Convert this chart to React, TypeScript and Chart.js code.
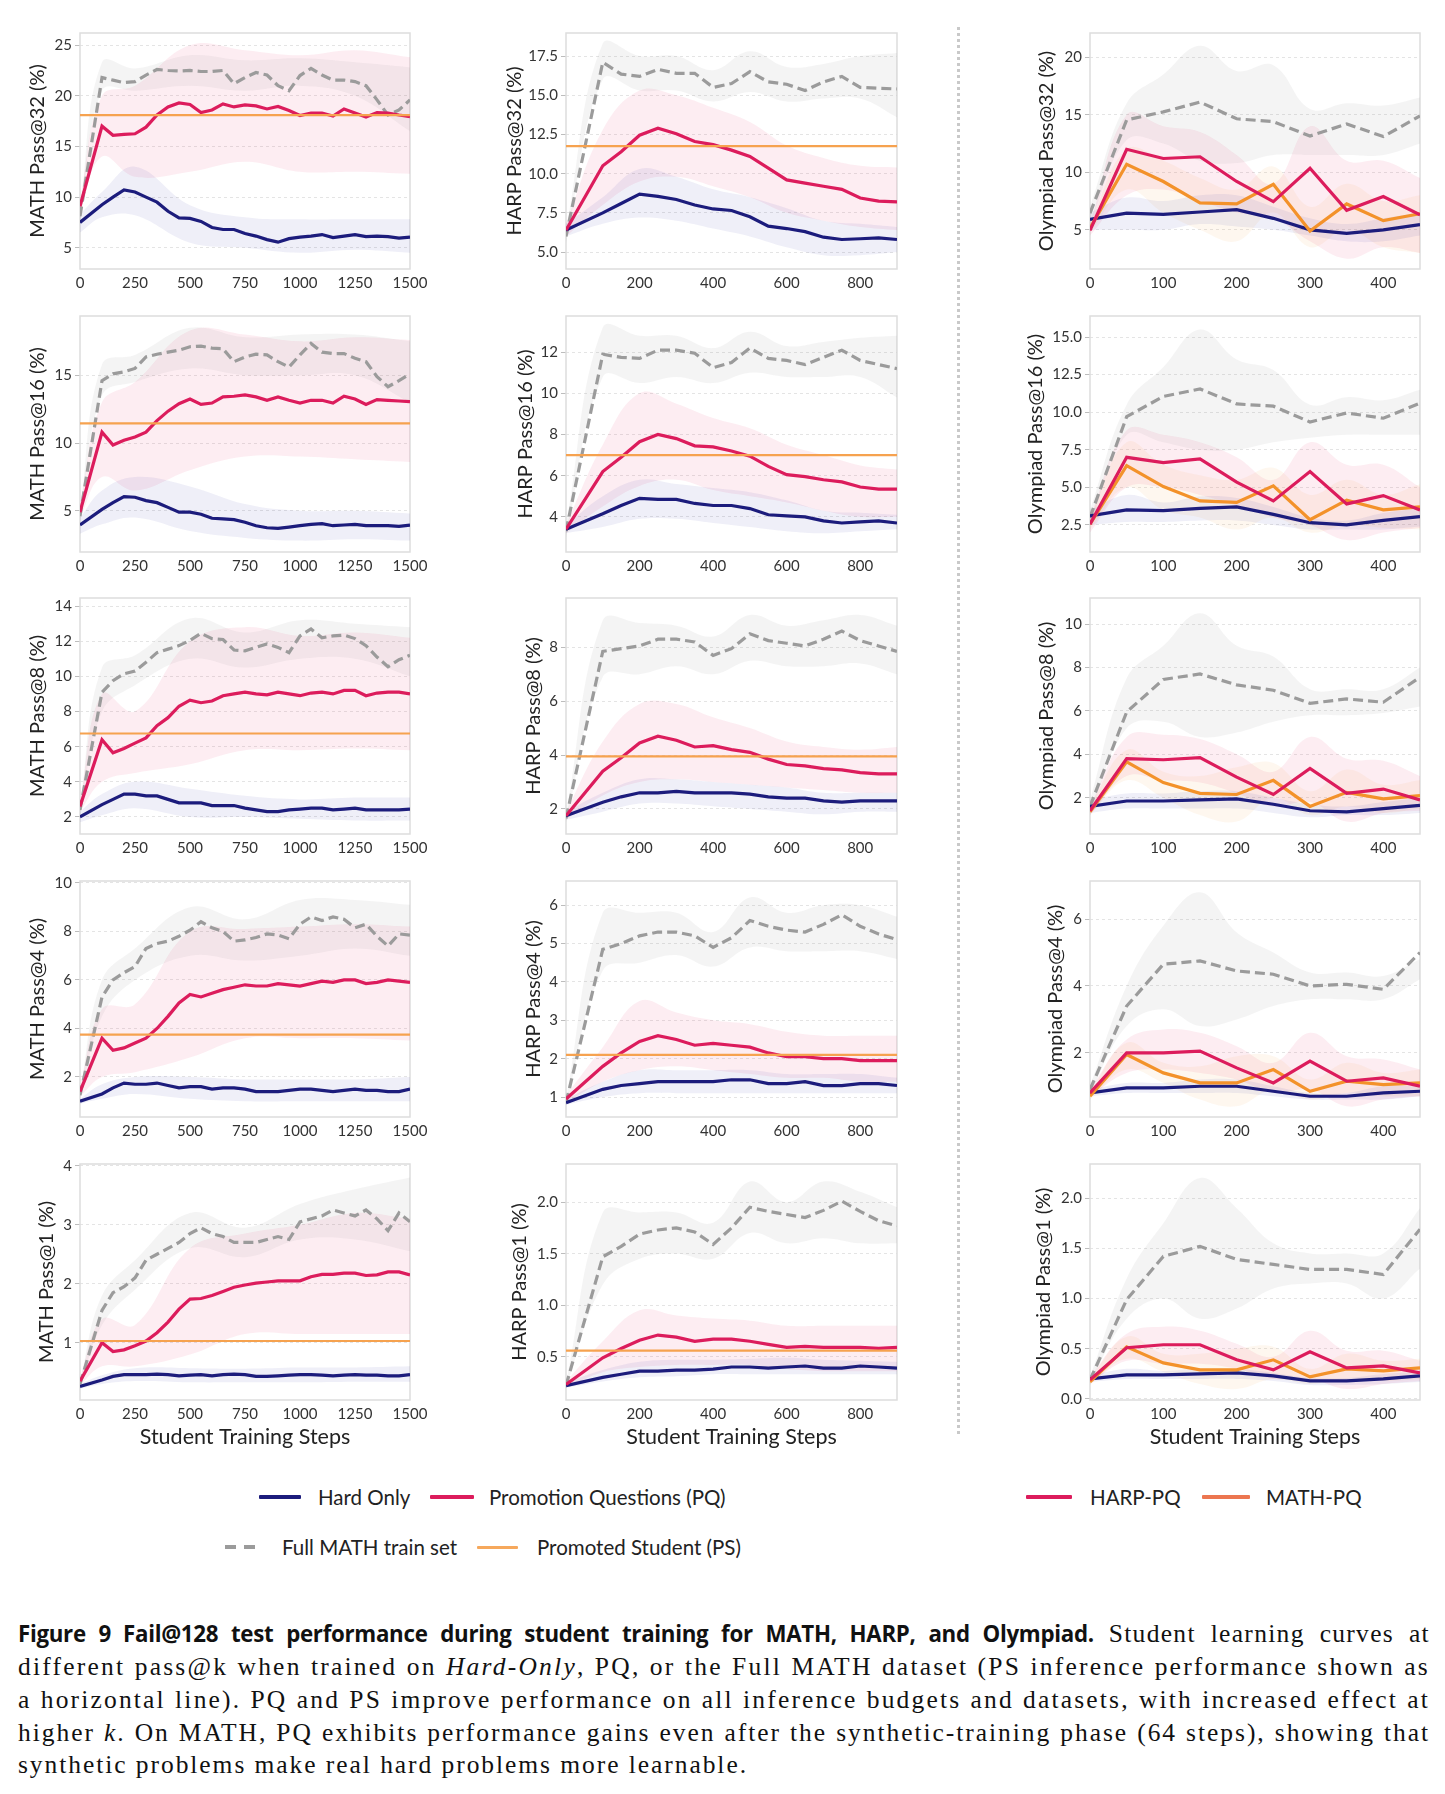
import React, { useEffect, useLayoutEffect, useRef } from 'react';
import { Chart, registerables } from 'chart.js';
Chart.register(...registerables);
Chart.defaults.font.family = "Lato, 'Noto Sans', sans-serif";

// ---------- x positions ----------
const MATH_X = [0,100,150,200,250,300,350,400,450,500,550,600,650,700,750,800,850,900,950,1000,1050,1100,1150,1200,1250,1300,1350,1400,1450,1500];
const HARP_X = [0,100,150,200,250,300,350,400,450,500,550,600,650,700,750,800,850,900];
const OLY_X = [0,50,100,150,200,250,300,350,400,450];
const MATH_BX = [0,100,250,500,750,1000,1250,1500];
const HARP_BX = [0,100,200,300,400,500,600,700,800,900];
const OLY_BX = [0,50,100,150,200,250,300,350,400,450];
const MATH_XTICKS = [0,250,500,750,1000,1250,1500];
const HARP_XTICKS = [0,200,400,600,800];
const OLY_XTICKS = [0,100,200,300,400];
const K_VALUES = [32,16,8,4,1];

// ---------- MATH ----------
const M32_FULL = [8.1,21.8,21.55,21.3,21.4,22.05,22.6,22.5,22.45,22.5,22.4,22.4,22.5,21.2,21.8,22.3,22.05,21.0,20.5,22.0,22.7,22.05,21.55,21.55,21.4,21.0,19.6,18.1,18.6,19.6];
const M32_PQ = [9.1,17.0,16.1,16.2,16.25,16.9,18.1,18.9,19.3,19.15,18.35,18.6,19.2,18.9,19.1,19.0,18.7,18.95,18.55,18.05,18.3,18.3,18.0,18.7,18.3,17.9,18.35,18.3,18.1,17.95];
const M32_HARD = [7.5,9.25,10.0,10.7,10.5,10.0,9.5,8.6,7.95,7.9,7.6,7.0,6.8,6.8,6.4,6.15,5.8,5.55,5.9,6.05,6.15,6.3,6.0,6.15,6.3,6.1,6.15,6.1,5.95,6.05];
const M32_FULL_LO = [7.5,20.5,20.5,21.0,20.5,21.0,20.0,16.5];
const M32_FULL_HI = [8.8,23.3,22.7,24.0,23.5,23.7,23.3,22.8];
const M32_PQ_LO = [8.5,14.0,12.0,12.5,13.5,12.5,12.5,12.3];
const M32_PQ_HI = [9.7,20.0,21.0,25.0,24.5,24.0,24.5,23.8];
const M32_HARD_LO = [6.5,8.0,8.2,5.5,5.0,4.5,4.8,4.5];
const M32_HARD_HI = [8.3,10.5,13.0,9.2,8.0,7.8,7.8,7.8];

const M16_FULL = [4.6,14.6,15.1,15.25,15.5,16.35,16.55,16.7,16.85,17.1,17.15,17.0,16.95,16.0,16.35,16.55,16.5,16.0,15.6,16.5,17.35,16.7,16.6,16.6,16.25,16.0,14.9,14.15,14.6,15.1];
const M16_PQ = [4.9,10.8,9.85,10.2,10.45,10.8,11.65,12.35,12.9,13.25,12.85,12.95,13.4,13.45,13.55,13.4,13.15,13.4,13.15,12.95,13.15,13.15,12.95,13.45,13.25,12.85,13.2,13.15,13.1,13.05];
const M16_HARD = [3.95,5.1,5.6,6.05,6.0,5.75,5.6,5.25,4.9,4.9,4.75,4.45,4.4,4.35,4.15,3.9,3.75,3.7,3.8,3.9,4.0,4.05,3.9,3.95,4.0,3.9,3.9,3.9,3.85,3.95];
const M16_FULL_LO = [4.2,13.5,14.5,15.5,15.0,15.0,15.0,13.0];
const M16_FULL_HI = [5.0,15.8,16.5,18.5,17.8,18.0,18.0,17.5];
const M16_PQ_LO = [4.5,7.5,6.5,8.0,9.0,9.0,8.8,8.6];
const M16_PQ_HI = [5.3,13.0,14.5,18.3,18.0,17.5,17.8,17.6];
const M16_HARD_LO = [3.3,4.0,4.5,3.5,3.0,2.8,2.9,2.8];
const M16_HARD_HI = [4.5,6.5,7.5,6.8,5.5,5.0,5.0,4.8];

const M8_FULL = [2.4,9.1,9.75,10.15,10.3,10.8,11.35,11.55,11.75,12.05,12.45,12.15,12.1,11.5,11.45,11.65,11.85,11.65,11.35,12.3,12.7,12.2,12.3,12.35,12.15,11.75,11.1,10.55,10.95,11.2];
const M8_PQ = [2.6,6.4,5.65,5.9,6.2,6.5,7.2,7.65,8.3,8.65,8.5,8.6,8.9,9.0,9.1,9.0,8.95,9.1,9.0,8.9,9.05,9.1,9.0,9.2,9.2,8.9,9.05,9.1,9.1,9.0];
const M8_HARD = [2.0,2.7,3.0,3.3,3.3,3.2,3.2,3.0,2.8,2.8,2.8,2.65,2.65,2.65,2.5,2.4,2.3,2.3,2.4,2.45,2.5,2.5,2.4,2.45,2.5,2.4,2.4,2.4,2.4,2.45];
const M8_FULL_LO = [2.2,8.0,9.5,11.0,10.5,11.0,11.0,10.0];
const M8_FULL_HI = [2.6,10.5,11.2,13.3,12.5,13.2,13.0,12.8];
const M8_PQ_LO = [2.3,4.0,4.5,5.0,5.8,5.8,5.9,5.8];
const M8_PQ_HI = [2.9,9.0,8.0,12.0,12.8,12.3,12.5,12.2];
const M8_HARD_LO = [1.7,2.1,2.5,2.0,2.0,1.9,1.8,1.8];
const M8_HARD_HI = [2.3,3.3,4.0,3.6,3.2,3.0,3.1,3.1];

const M4_FULL = [1.25,5.3,6.0,6.3,6.55,7.3,7.5,7.6,7.8,8.05,8.4,8.15,8.0,7.6,7.65,7.75,7.9,7.85,7.7,8.3,8.6,8.45,8.6,8.5,8.15,8.3,7.8,7.4,7.9,7.85];
const M4_PQ = [1.4,3.6,3.1,3.2,3.4,3.6,4.0,4.5,5.05,5.4,5.3,5.45,5.6,5.7,5.8,5.75,5.75,5.85,5.8,5.75,5.85,5.95,5.9,6.0,6.0,5.85,5.9,6.0,5.95,5.9];
const M4_HARD = [1.0,1.3,1.55,1.75,1.7,1.7,1.75,1.65,1.55,1.6,1.6,1.5,1.55,1.55,1.5,1.4,1.4,1.4,1.45,1.5,1.5,1.45,1.4,1.45,1.5,1.45,1.45,1.4,1.4,1.5];
const M4_FULL_LO = [1.1,4.5,6.0,7.0,6.8,7.0,7.3,7.0];
const M4_FULL_HI = [1.4,6.0,7.3,9.0,8.5,9.3,9.3,9.1];
const M4_PQ_LO = [1.2,2.0,2.2,2.8,3.6,3.6,3.6,3.5];
const M4_PQ_HI = [1.6,4.8,5.0,8.0,8.1,8.2,8.3,8.2];
const M4_HARD_LO = [0.9,1.1,1.3,1.1,1.0,1.0,1.0,1.0];
const M4_HARD_HI = [1.1,1.7,2.0,2.0,1.9,1.9,1.9,2.0];

const M1_FULL = [0.3,1.55,1.85,1.95,2.1,2.4,2.5,2.6,2.7,2.85,2.95,2.85,2.8,2.7,2.7,2.7,2.75,2.8,2.75,3.05,3.1,3.15,3.25,3.2,3.15,3.25,3.1,2.9,3.2,3.05];
const M1_PQ = [0.35,1.0,0.85,0.88,0.95,1.03,1.17,1.35,1.57,1.74,1.75,1.8,1.87,1.94,1.98,2.01,2.03,2.05,2.05,2.05,2.12,2.16,2.16,2.18,2.18,2.14,2.15,2.2,2.2,2.15];
const M1_HARD = [0.26,0.37,0.43,0.46,0.46,0.46,0.47,0.46,0.44,0.45,0.46,0.44,0.46,0.47,0.46,0.43,0.43,0.44,0.45,0.46,0.46,0.45,0.44,0.45,0.46,0.45,0.45,0.44,0.44,0.46];
const M1_FULL_LO = [0.25,1.3,1.9,2.6,2.45,2.75,2.75,2.55];
const M1_FULL_HI = [0.35,1.8,2.4,3.2,2.95,3.35,3.6,3.8];
const M1_PQ_LO = [0.28,0.6,0.6,0.8,1.15,1.15,1.15,1.15];
const M1_PQ_HI = [0.4,1.4,1.3,2.6,2.85,3.0,3.2,3.1];
const M1_HARD_LO = [0.22,0.3,0.35,0.33,0.33,0.33,0.34,0.34];
const M1_HARD_HI = [0.3,0.45,0.57,0.57,0.56,0.58,0.58,0.6];

const MATH_PS = [18.1, 11.45, 6.75, 3.75, 1.03];
const MATH_YMIN = [2.9, 1.96, 1.03, 0.35, 0.03];
const MATH_YMAX = [26.2, 19.37, 14.46, 10.08, 4.03];
const MATH_YSTEP = [5, 5, 2, 2, 1];
const MATH_DEC = [0, 0, 0, 0, 0];

// ---------- HARP ----------
const H32_FULL = [6.0,17.1,16.35,16.2,16.65,16.4,16.4,15.5,15.75,16.5,15.85,15.7,15.3,15.85,16.2,15.5,15.45,15.4];
const H32_PQ = [6.4,10.5,11.4,12.45,12.9,12.55,12.05,11.85,11.5,11.1,10.35,9.6,9.4,9.2,9.0,8.45,8.25,8.2];
const H32_HARD = [6.4,7.5,8.1,8.7,8.55,8.35,8.0,7.75,7.65,7.25,6.65,6.5,6.3,5.95,5.8,5.85,5.9,5.8];
const H32_FULL_LO = [5.6,16.0,15.3,15.3,14.6,15.2,14.6,14.8,14.8,13.6];
const H32_FULL_HI = [6.4,18.3,17.5,17.5,16.6,17.8,16.8,17.0,17.5,17.7];
const H32_PQ_LO = [6.0,8.0,9.5,9.8,9.2,8.5,7.5,7.0,6.6,6.4];
const H32_PQ_HI = [6.8,12.8,15.3,15.0,14.2,13.3,11.8,11.0,10.5,10.4];
const H32_HARD_LO = [6.0,6.8,7.2,7.0,6.5,6.0,5.3,4.8,4.8,5.0];
const H32_HARD_HI = [6.8,8.5,10.3,9.8,9.0,8.5,7.8,7.0,6.8,6.6];

const H16_FULL = [3.3,11.9,11.75,11.7,12.1,12.1,11.95,11.25,11.5,12.2,11.7,11.6,11.4,11.75,12.1,11.6,11.4,11.2];
const H16_PQ = [3.4,6.2,6.9,7.65,8.0,7.8,7.45,7.4,7.2,6.95,6.45,6.05,5.95,5.8,5.7,5.45,5.35,5.35];
const H16_HARD = [3.4,4.15,4.55,4.9,4.85,4.85,4.65,4.55,4.55,4.4,4.1,4.05,4.0,3.8,3.7,3.75,3.8,3.7];
const H16_FULL_LO = [3.0,10.8,10.5,10.8,10.5,11.0,10.8,10.8,10.8,9.8];
const H16_FULL_HI = [3.6,13.2,12.8,12.8,12.2,13.0,12.3,12.5,12.7,12.8];
const H16_PQ_LO = [3.2,4.5,5.5,5.8,5.3,5.0,4.7,4.3,4.0,4.0];
const H16_PQ_HI = [3.6,7.5,10.0,9.5,8.8,8.3,7.5,7.0,6.5,6.3];
const H16_HARD_LO = [3.2,3.5,3.9,3.9,3.7,3.5,3.3,3.2,3.3,3.4];
const H16_HARD_HI = [3.6,5.0,5.8,5.6,5.4,5.2,4.8,4.3,4.2,4.1];

const H8_FULL = [1.65,7.85,7.95,8.05,8.3,8.3,8.2,7.7,7.95,8.5,8.25,8.15,8.05,8.3,8.6,8.25,8.05,7.85];
const H8_PQ = [1.75,3.4,3.9,4.45,4.7,4.55,4.3,4.35,4.2,4.1,3.85,3.65,3.6,3.5,3.45,3.35,3.3,3.3];
const H8_HARD = [1.75,2.25,2.45,2.6,2.6,2.65,2.6,2.6,2.6,2.55,2.45,2.4,2.4,2.3,2.25,2.3,2.3,2.3];
const H8_FULL_LO = [1.5,6.9,7.0,7.3,7.0,7.5,7.3,7.3,7.4,7.0];
const H8_FULL_HI = [1.8,9.0,8.9,8.8,8.4,9.2,8.8,9.0,9.2,8.8];
const H8_PQ_LO = [1.6,2.5,3.0,3.1,3.0,2.9,2.8,2.7,2.6,2.6];
const H8_PQ_HI = [1.9,4.5,5.9,5.9,5.4,5.0,4.5,4.3,4.2,4.3];
const H8_HARD_LO = [1.6,1.9,2.2,2.2,2.1,2.0,1.9,1.8,1.9,1.9];
const H8_HARD_HI = [1.9,2.6,3.1,3.1,3.0,2.9,2.8,2.6,2.6,2.6];

const H4_FULL = [0.85,4.85,5.0,5.2,5.3,5.3,5.2,4.9,5.15,5.6,5.45,5.35,5.3,5.5,5.75,5.45,5.25,5.1];
const H4_PQ = [0.95,1.8,2.15,2.45,2.6,2.5,2.35,2.4,2.35,2.3,2.15,2.05,2.05,2.0,2.0,1.95,1.95,1.95];
const H4_HARD = [0.85,1.2,1.3,1.35,1.4,1.4,1.4,1.4,1.45,1.45,1.35,1.35,1.4,1.3,1.3,1.35,1.35,1.3];
const H4_FULL_LO = [0.8,4.3,4.5,4.7,4.4,4.9,4.8,4.8,4.8,4.6];
const H4_FULL_HI = [0.95,5.8,5.8,5.8,5.3,6.2,5.8,6.0,6.0,5.7];
const H4_PQ_LO = [0.85,1.4,1.7,1.8,1.7,1.6,1.5,1.5,1.4,1.4];
const H4_PQ_HI = [1.05,2.3,3.5,3.2,3.0,2.9,2.7,2.6,2.6,2.6];
const H4_HARD_LO = [0.8,1.0,1.1,1.1,1.1,1.1,1.1,1.1,1.1,1.1];
const H4_HARD_HI = [0.95,1.4,1.7,1.7,1.7,1.7,1.6,1.6,1.6,1.5];

const H1_FULL = [0.22,1.47,1.57,1.69,1.73,1.75,1.71,1.59,1.75,1.95,1.91,1.88,1.85,1.92,2.01,1.91,1.82,1.77];
const H1_PQ = [0.23,0.49,0.58,0.66,0.71,0.69,0.65,0.67,0.67,0.65,0.62,0.59,0.6,0.59,0.59,0.59,0.58,0.59];
const H1_HARD = [0.22,0.3,0.33,0.36,0.36,0.37,0.37,0.38,0.4,0.4,0.39,0.4,0.41,0.39,0.39,0.41,0.4,0.39];
const H1_FULL_LO = [0.2,1.2,1.45,1.5,1.45,1.7,1.6,1.65,1.6,1.6];
const H1_FULL_HI = [0.25,1.9,1.9,1.9,1.8,2.2,2.0,2.2,2.1,1.95];
const H1_PQ_LO = [0.2,0.35,0.4,0.42,0.42,0.42,0.38,0.36,0.36,0.36];
const H1_PQ_HI = [0.26,0.65,0.95,0.9,0.87,0.85,0.8,0.8,0.8,0.8];
const H1_HARD_LO = [0.2,0.26,0.3,0.31,0.33,0.33,0.33,0.33,0.33,0.33];
const H1_HARD_HI = [0.25,0.37,0.45,0.47,0.47,0.48,0.49,0.47,0.46,0.45];

const HARP_PS = [11.75, 7.0, 3.95, 2.1, 0.56];
const HARP_YMIN = [3.92, 2.29, 1.07, 0.48, 0.08];
const HARP_YMAX = [18.97, 13.76, 9.83, 6.63, 2.37];
const HARP_YSTEP = [2.5, 2, 2, 1, 0.5];
const HARP_DEC = [1, 0, 0, 0, 1];

// ---------- Olympiad ----------
const O32_FULL = [6.45,14.55,15.25,16.1,14.65,14.4,13.15,14.2,13.1,14.9];
const O32_HPQ = [4.95,12.0,11.2,11.35,9.2,7.45,10.35,6.7,7.9,6.3];
const O32_MPQ = [5.15,10.7,9.2,7.35,7.25,8.95,4.9,7.25,5.8,6.4];
const O32_HARD = [5.9,6.45,6.35,6.55,6.75,6.0,5.0,4.7,5.0,5.45];
const O32_FULL_LO = [5.5,12.8,12.5,11.0,10.8,11.5,11.5,11.5,11.5,12.5];
const O32_FULL_HI = [7.0,16.0,18.5,21.0,18.8,19.3,15.5,16.0,15.8,16.5];
const O32_HPQ_LO = [4.5,8.0,8.5,7.5,6.5,6.0,4.0,2.5,3.5,3.0];
const O32_HPQ_HI = [5.5,15.0,14.0,13.5,11.5,9.0,14.0,11.0,11.0,9.5];
const O32_MPQ_LO = [4.8,8.5,6.5,5.0,4.0,6.5,3.5,5.0,3.5,3.0];
const O32_MPQ_HI = [5.5,12.0,11.0,9.5,8.5,10.5,7.0,9.0,7.5,8.0];
const O32_HARD_LO = [5.0,5.0,5.0,5.5,5.3,5.0,4.5,4.0,4.0,4.5];
const O32_HARD_HI = [6.5,7.8,7.5,8.0,8.0,7.0,6.0,5.5,6.0,6.5];

const O16_FULL = [3.0,9.7,11.05,11.55,10.55,10.4,9.35,9.95,9.6,10.6];
const O16_HPQ = [2.55,7.0,6.65,6.9,5.35,4.1,6.05,3.9,4.45,3.5];
const O16_MPQ = [2.55,6.45,5.05,4.1,4.0,5.1,2.85,4.15,3.5,3.7];
const O16_HARD = [3.1,3.5,3.45,3.6,3.7,3.2,2.65,2.5,2.8,3.05];
const O16_FULL_LO = [2.5,8.5,8.0,7.5,7.5,8.0,8.3,8.5,8.5,8.5];
const O16_FULL_HI = [3.5,10.5,13.0,15.5,13.5,12.8,10.5,11.0,10.8,11.5];
const O16_HPQ_LO = [2.0,5.0,5.0,4.5,3.8,3.0,2.5,1.5,2.0,2.3];
const O16_HPQ_HI = [3.0,8.8,8.5,8.0,7.0,5.5,8.0,6.5,6.5,5.0];
const O16_MPQ_LO = [2.2,5.0,3.5,3.0,2.2,3.0,2.0,2.5,2.3,2.2];
const O16_MPQ_HI = [3.0,8.0,6.5,5.8,5.5,6.3,4.5,5.5,4.5,5.2];
const O16_HARD_LO = [2.5,2.7,2.7,2.8,2.8,2.5,2.2,2.2,2.2,2.4];
const O16_HARD_HI = [3.5,4.5,4.0,4.4,4.3,3.7,3.0,2.8,3.3,3.6];

const O8_FULL = [1.6,5.95,7.45,7.7,7.2,6.95,6.35,6.55,6.4,7.55];
const O8_HPQ = [1.4,3.8,3.75,3.85,2.95,2.15,3.35,2.2,2.4,1.9];
const O8_MPQ = [1.35,3.65,2.7,2.2,2.15,2.8,1.6,2.25,1.95,2.1];
const O8_HARD = [1.6,1.85,1.85,1.9,1.95,1.7,1.4,1.35,1.5,1.65];
const O8_FULL_LO = [1.3,5.2,5.5,4.8,5.0,5.5,5.8,5.8,5.9,6.2];
const O8_FULL_HI = [1.9,7.5,9.0,10.5,9.0,8.5,7.0,7.0,7.0,8.0];
const O8_HPQ_LO = [1.2,3.0,2.8,2.7,2.2,1.6,1.8,0.9,1.3,1.4];
const O8_HPQ_HI = [1.6,4.8,4.9,4.7,4.0,3.2,4.8,3.8,3.7,3.0];
const O8_MPQ_LO = [1.2,2.8,2.0,1.2,0.9,2.0,1.2,1.6,1.3,1.5];
const O8_MPQ_HI = [1.6,4.2,3.2,3.0,3.4,3.6,2.3,3.3,2.6,2.8];
const O8_HARD_LO = [1.3,1.5,1.5,1.5,1.5,1.3,1.1,1.2,1.2,1.3];
const O8_HARD_HI = [1.9,2.2,2.2,2.3,2.3,2.0,1.7,1.6,1.8,2.0];

const O4_FULL = [0.9,3.4,4.65,4.75,4.45,4.35,4.0,4.05,3.9,5.0];
const O4_HPQ = [0.8,2.0,2.0,2.05,1.55,1.1,1.75,1.15,1.25,1.0];
const O4_MPQ = [0.7,1.95,1.4,1.1,1.1,1.5,0.85,1.15,1.05,1.1];
const O4_HARD = [0.8,0.95,0.95,1.0,1.0,0.85,0.7,0.7,0.8,0.85];
const O4_FULL_LO = [0.8,2.8,3.3,2.8,3.0,3.4,3.6,3.6,3.6,4.2];
const O4_FULL_HI = [1.0,4.0,5.8,6.8,5.6,5.0,4.4,4.4,4.3,4.8];
const O4_HPQ_LO = [0.7,1.4,1.5,1.4,1.2,0.8,0.9,0.4,0.6,0.7];
const O4_HPQ_HI = [0.9,2.4,2.7,2.6,2.2,1.7,2.6,1.9,1.8,1.5];
const O4_MPQ_LO = [0.6,1.5,1.1,0.6,0.4,0.9,0.6,0.8,0.7,0.7];
const O4_MPQ_HI = [0.8,2.3,1.7,1.6,1.9,1.9,1.2,1.7,1.4,1.5];
const O4_HARD_LO = [0.7,0.8,0.8,0.8,0.8,0.7,0.6,0.6,0.6,0.7];
const O4_HARD_HI = [0.9,1.1,1.1,1.2,1.2,1.0,0.8,0.8,1.0,1.0];

const O1_FULL = [0.19,0.99,1.42,1.52,1.39,1.34,1.29,1.29,1.24,1.69];
const O1_HPQ = [0.19,0.51,0.54,0.54,0.39,0.29,0.47,0.31,0.33,0.26];
const O1_MPQ = [0.17,0.52,0.36,0.29,0.29,0.39,0.22,0.3,0.28,0.31];
const O1_HARD = [0.2,0.24,0.24,0.25,0.26,0.23,0.18,0.18,0.2,0.23];
const O1_FULL_LO = [0.17,0.8,1.0,0.8,0.9,1.1,1.15,1.15,1.0,1.3];
const O1_FULL_HI = [0.22,1.2,1.75,2.2,1.9,1.55,1.45,1.45,1.45,1.9];
const O1_HPQ_LO = [0.15,0.38,0.35,0.35,0.3,0.2,0.2,0.1,0.15,0.18];
const O1_HPQ_HI = [0.22,0.65,0.72,0.68,0.55,0.42,0.68,0.48,0.48,0.38];
const O1_MPQ_LO = [0.14,0.4,0.27,0.15,0.1,0.2,0.15,0.2,0.18,0.2];
const O1_MPQ_HI = [0.2,0.62,0.45,0.45,0.5,0.52,0.3,0.45,0.38,0.4];
const O1_HARD_LO = [0.17,0.2,0.2,0.2,0.2,0.18,0.14,0.14,0.15,0.17];
const O1_HARD_HI = [0.23,0.3,0.28,0.3,0.3,0.26,0.21,0.21,0.25,0.27];

const OLY_YMIN = [1.6, 0.7, 0.33, 0.08, -0.01];
const OLY_YMAX = [22.1, 16.4, 11.2, 7.14, 2.34];
const OLY_YSTEP = [5, 2.5, 2, 2, 0.5];
const OLY_DEC = [0, 1, 0, 0, 1];

// ---------- style ----------
const COLORS: any = { hard: '#1c1c7c', pq: '#dc1c5c', full: '#9b9b9b', mpq: '#f3922a', ps: '#f6a24f' };
const BANDS: any = {
  hard: 'rgba(35,35,150,0.07)', pq: 'rgba(225,30,95,0.08)',
  full: 'rgba(150,150,150,0.10)', mpq: 'rgba(245,150,45,0.08)',
};
const ORDER: any = { full: 4, hard: 3, mpq: 2, pq: 1 };

const ROW_T = [33, 316, 598, 881, 1164];
const PLOT_H = 236;
const COL_L = [80, 566, 1090];
const COL_R = [410, 897, 1420];
// canvas left edge per [row][col] (places each y-axis title like the reference)
const CANVAS_L = [[26, 503, 1035], [26, 514, 1024], [26, 522, 1035], [26, 522, 1044], [35, 508, 1032]];

type Series = { kind: string; y: number[]; lo: number[]; hi: number[] };
type PanelCfg = {
  row: number; col: number; name: string; k: number;
  xs: number[]; bx: number[]; xticks: number[]; xmax: number;
  ymin: number; ymax: number; ystep: number; dec: number;
  series: Series[]; ps?: number;
};

const S = (kind: string, y: number[], lo: number[], hi: number[]): Series => ({ kind, y, lo, hi });

const MATH_SERIES = [
  [S('full', M32_FULL, M32_FULL_LO, M32_FULL_HI), S('hard', M32_HARD, M32_HARD_LO, M32_HARD_HI), S('pq', M32_PQ, M32_PQ_LO, M32_PQ_HI)],
  [S('full', M16_FULL, M16_FULL_LO, M16_FULL_HI), S('hard', M16_HARD, M16_HARD_LO, M16_HARD_HI), S('pq', M16_PQ, M16_PQ_LO, M16_PQ_HI)],
  [S('full', M8_FULL, M8_FULL_LO, M8_FULL_HI), S('hard', M8_HARD, M8_HARD_LO, M8_HARD_HI), S('pq', M8_PQ, M8_PQ_LO, M8_PQ_HI)],
  [S('full', M4_FULL, M4_FULL_LO, M4_FULL_HI), S('hard', M4_HARD, M4_HARD_LO, M4_HARD_HI), S('pq', M4_PQ, M4_PQ_LO, M4_PQ_HI)],
  [S('full', M1_FULL, M1_FULL_LO, M1_FULL_HI), S('hard', M1_HARD, M1_HARD_LO, M1_HARD_HI), S('pq', M1_PQ, M1_PQ_LO, M1_PQ_HI)],
];
const HARP_SERIES = [
  [S('full', H32_FULL, H32_FULL_LO, H32_FULL_HI), S('hard', H32_HARD, H32_HARD_LO, H32_HARD_HI), S('pq', H32_PQ, H32_PQ_LO, H32_PQ_HI)],
  [S('full', H16_FULL, H16_FULL_LO, H16_FULL_HI), S('hard', H16_HARD, H16_HARD_LO, H16_HARD_HI), S('pq', H16_PQ, H16_PQ_LO, H16_PQ_HI)],
  [S('full', H8_FULL, H8_FULL_LO, H8_FULL_HI), S('hard', H8_HARD, H8_HARD_LO, H8_HARD_HI), S('pq', H8_PQ, H8_PQ_LO, H8_PQ_HI)],
  [S('full', H4_FULL, H4_FULL_LO, H4_FULL_HI), S('hard', H4_HARD, H4_HARD_LO, H4_HARD_HI), S('pq', H4_PQ, H4_PQ_LO, H4_PQ_HI)],
  [S('full', H1_FULL, H1_FULL_LO, H1_FULL_HI), S('hard', H1_HARD, H1_HARD_LO, H1_HARD_HI), S('pq', H1_PQ, H1_PQ_LO, H1_PQ_HI)],
];
const OLY_SERIES = [
  [S('full', O32_FULL, O32_FULL_LO, O32_FULL_HI), S('hard', O32_HARD, O32_HARD_LO, O32_HARD_HI), S('mpq', O32_MPQ, O32_MPQ_LO, O32_MPQ_HI), S('pq', O32_HPQ, O32_HPQ_LO, O32_HPQ_HI)],
  [S('full', O16_FULL, O16_FULL_LO, O16_FULL_HI), S('hard', O16_HARD, O16_HARD_LO, O16_HARD_HI), S('mpq', O16_MPQ, O16_MPQ_LO, O16_MPQ_HI), S('pq', O16_HPQ, O16_HPQ_LO, O16_HPQ_HI)],
  [S('full', O8_FULL, O8_FULL_LO, O8_FULL_HI), S('hard', O8_HARD, O8_HARD_LO, O8_HARD_HI), S('mpq', O8_MPQ, O8_MPQ_LO, O8_MPQ_HI), S('pq', O8_HPQ, O8_HPQ_LO, O8_HPQ_HI)],
  [S('full', O4_FULL, O4_FULL_LO, O4_FULL_HI), S('hard', O4_HARD, O4_HARD_LO, O4_HARD_HI), S('mpq', O4_MPQ, O4_MPQ_LO, O4_MPQ_HI), S('pq', O4_HPQ, O4_HPQ_LO, O4_HPQ_HI)],
  [S('full', O1_FULL, O1_FULL_LO, O1_FULL_HI), S('hard', O1_HARD, O1_HARD_LO, O1_HARD_HI), S('mpq', O1_MPQ, O1_MPQ_LO, O1_MPQ_HI), S('pq', O1_HPQ, O1_HPQ_LO, O1_HPQ_HI)],
];

const PANELS: PanelCfg[] = [];
K_VALUES.forEach((k, r) => {
  PANELS.push({ row: r, col: 0, name: 'MATH', k, xs: MATH_X, bx: MATH_BX, xticks: MATH_XTICKS, xmax: 1500,
    ymin: MATH_YMIN[r], ymax: MATH_YMAX[r], ystep: MATH_YSTEP[r], dec: MATH_DEC[r], series: MATH_SERIES[r], ps: MATH_PS[r] });
  PANELS.push({ row: r, col: 1, name: 'HARP', k, xs: HARP_X, bx: HARP_BX, xticks: HARP_XTICKS, xmax: 900,
    ymin: HARP_YMIN[r], ymax: HARP_YMAX[r], ystep: HARP_YSTEP[r], dec: HARP_DEC[r], series: HARP_SERIES[r], ps: HARP_PS[r] });
  PANELS.push({ row: r, col: 2, name: 'Olympiad', k, xs: OLY_X, bx: OLY_BX, xticks: OLY_XTICKS, xmax: 450,
    ymin: OLY_YMIN[r], ymax: OLY_YMAX[r], ystep: OLY_YSTEP[r], dec: OLY_DEC[r], series: OLY_SERIES[r] });
});

function yTicks(min: number, max: number, step: number) {
  const out: number[] = [];
  for (let i = Math.ceil(min / step - 1e-9); i * step <= max + 1e-9; i++) out.push(Math.round(i * step * 1000) / 1000 + 0);
  return out;
}

const framePlugin = {
  id: 'frame',
  beforeDatasetsDraw(chart: any) {
    const { ctx, chartArea: a } = chart;
    ctx.save();
    ctx.strokeStyle = '#dddddd';
    ctx.lineWidth = 1.5;
    ctx.strokeRect(a.left, a.top, a.right - a.left, a.bottom - a.top);
    ctx.restore();
  },
};

function Panel({ p }: { p: PanelCfg }) {
  const ref = useRef<HTMLCanvasElement>(null);
  const L = COL_L[p.col], R = COL_R[p.col], T = ROW_T[p.row];
  const cl = CANVAS_L[p.row][p.col];
  const yW = L - cl;
  const padT = 12, padR = 24;
  const xH = p.row === 4 ? 50 : 30;
  const w = yW + (R - L) + padR;
  const h = padT + PLOT_H + xH;

  useEffect(() => {
    const datasets: any[] = [];
    p.series.forEach((s) => {
      datasets.push({
        data: p.xs.map((x, i) => ({ x, y: s.y[i] })),
        borderColor: COLORS[s.kind], borderWidth: 3.2,
        borderDash: s.kind === 'full' ? [10, 5] : [],
        pointRadius: 0, fill: false, tension: 0, order: ORDER[s.kind],
      });
    });
    if (p.ps !== undefined) {
      datasets.push({
        data: [{ x: 0, y: p.ps }, { x: p.xmax, y: p.ps }],
        borderColor: COLORS.ps, borderWidth: 2.2, pointRadius: 0, fill: false, order: 0,
      });
    }
    p.series.forEach((s) => {
      const loIdx = datasets.length;
      datasets.push({
        data: p.bx.map((x, i) => ({ x, y: s.lo[i] })),
        borderWidth: 0, borderColor: 'rgba(0,0,0,0)', pointRadius: 0, tension: 0.4, fill: false, order: 20,
      });
      datasets.push({
        data: p.bx.map((x, i) => ({ x, y: s.hi[i] })),
        borderWidth: 0, borderColor: 'rgba(0,0,0,0)', pointRadius: 0, tension: 0.4,
        fill: loIdx, backgroundColor: BANDS[s.kind], order: 20,
      });
    });

    const yt = yTicks(p.ymin, p.ymax, p.ystep);
    const chart = new Chart(ref.current as HTMLCanvasElement, {
      type: 'line',
      data: { datasets },
      plugins: [framePlugin],
      options: {
        animation: false, responsive: false, maintainAspectRatio: false, devicePixelRatio: 1,
        events: [],
        layout: { padding: { top: padT, right: padR, left: 0, bottom: 0 } },
        plugins: { legend: { display: false }, tooltip: { enabled: false } },
        scales: {
          x: {
            type: 'linear', min: 0, max: p.xmax,
            grid: { display: false, drawTicks: false },
            border: { display: false },
            ticks: { color: '#333', font: { size: 15 }, padding: 5, maxRotation: 0, autoSkip: false, callback: (v: any) => String(v) },
            afterBuildTicks: (ax: any) => { ax.ticks = p.xticks.map((v) => ({ value: v })); },
            afterFit: (ax: any) => { ax.height = xH; },
            title: p.row === 4
              ? { display: true, text: 'Student Training Steps', color: '#222', font: { size: 21.5 }, padding: { top: 2, bottom: 0 } }
              : { display: false },
          },
          y: {
            type: 'linear', min: p.ymin, max: p.ymax,
            grid: { color: '#e4e4e4', lineWidth: 1, drawTicks: true, tickLength: 5, tickColor: '#bdbdbd' },
            border: { display: false, dash: [3, 3] },
            ticks: { color: '#333', font: { size: 15 }, padding: 3, autoSkip: false, callback: (v: any) => Number(v).toFixed(p.dec) },
            afterBuildTicks: (ax: any) => { ax.ticks = yt.map((v) => ({ value: v })); },
            afterFit: (ax: any) => { ax.width = yW; },
            title: { display: true, text: `${p.name} Pass@${p.k} (%)`, color: '#222', font: { size: 20 }, padding: { top: 0, bottom: 0 } },
          },
        },
      } as any,
    });
    return () => chart.destroy();
  }, []);

  return (
    <canvas ref={ref} width={w} height={h}
      style={{ position: 'absolute', left: cl, top: T - padT, width: w, height: h }} />
  );
}

function LegendItem({ x1, x2, y, color, thick, dashed, label, tx }: any) {
  return (
    <>
      {dashed ? (
        <div style={{ position: 'absolute', left: x1, top: y - thick / 2, width: x2 - x1, height: thick,
          background: `repeating-linear-gradient(to right, ${color} 0 11px, transparent 11px 19px)` }} />
      ) : (
        <div style={{ position: 'absolute', left: x1, top: y - thick / 2, width: x2 - x1, height: thick, background: color, borderRadius: 1 }} />
      )}
      <div style={{ position: 'absolute', left: tx, top: y - 14, height: 28, lineHeight: '28px', fontFamily: 'Lato, sans-serif',
        fontSize: 20.5, color: '#222', whiteSpace: 'nowrap' }}>{label}</div>
    </>
  );
}

const capLine: any = {
  position: 'absolute', left: 18, width: 1412, height: 33, lineHeight: '33px',
  fontFamily: "'Liberation Serif', 'DejaVu Serif', serif", fontSize: 25.5, letterSpacing: 0.8, color: '#111',
  textAlign: 'justify', textAlignLast: 'justify', whiteSpace: 'normal', overflow: 'visible',
};

// caption line whose tracking is tuned so the natural width is close to the reference line width
function CapLine({ top, target, last, children }: any) {
  const ref = useRef<HTMLDivElement>(null);
  useLayoutEffect(() => {
    const el = ref.current;
    if (!el) return;
    el.style.whiteSpace = 'nowrap';
    el.style.width = 'auto';
    el.style.letterSpacing = '0px';
    const w0 = el.getBoundingClientRect().width;
    const n = (el.textContent || '').length;
    const ls = Math.max(0, Math.min(2.5, (target - w0) / n));
    el.style.letterSpacing = ls.toFixed(3) + 'px';
    el.style.width = '1412px';
    el.style.whiteSpace = 'normal';
  }, []);
  return (
    <div ref={ref} style={{ ...capLine, top, textAlign: last ? 'left' : 'justify', textAlignLast: last ? 'left' : 'justify' }}>
      {children}
    </div>
  );
}

export default function App() {
  return (
    <div style={{ position: 'absolute', left: 0, top: 0, width: 1445, height: 1794, background: '#fff', overflow: 'hidden' }}>
      {PANELS.map((p, i) => <Panel key={i} p={p} />)}
      <div style={{ position: 'absolute', left: 957, top: 27, width: 3, height: 1410,
        background: 'repeating-linear-gradient(to bottom, #c9c9c9 0 3px, transparent 3px 6px)' }} />

      <LegendItem x1={259} x2={301} y={1497} color={COLORS.hard} thick={4} label="Hard Only" tx={318} />
      <LegendItem x1={430} x2={474} y={1497} color={COLORS.pq} thick={4} label="Promotion Questions (PQ)" tx={489} />
      <LegendItem x1={1026} x2={1072} y={1497} color={COLORS.pq} thick={4} label="HARP-PQ" tx={1090} />
      <LegendItem x1={1202} x2={1250} y={1497} color="#ec7650" thick={4} label="MATH-PQ" tx={1266} />
      <LegendItem x1={225} x2={262} y={1547} color="#9b9b9b" thick={4} dashed label="Full MATH train set" tx={282} />
      <LegendItem x1={477} x2={518} y={1547} color="#f6a85c" thick={3} label="Promoted Student (PS)" tx={537} />

      <div style={{ ...capLine, top: 1617, letterSpacing: 1.3 }}>
        <span style={{ fontFamily: "'Open Sans', 'Noto Sans', sans-serif", fontWeight: 700, fontSize: 22.3, letterSpacing: -0.3 }}>
          Figure 9<span style={{ display: 'inline-block', width: 12 }}></span>Fail@128 test performance during student training for MATH, HARP, and Olympiad.
        </span>{' '}Student learning curves at
      </div>
      <CapLine top={1650} target={1400}>
        different pass@k when trained on <i>Hard-Only</i>, PQ, or the Full MATH dataset (PS inference performance shown as
      </CapLine>
      <CapLine top={1683} target={1400}>
        a horizontal line). PQ and PS improve performance on all inference budgets and datasets, with increased effect at
      </CapLine>
      <CapLine top={1716} target={1400}>
        higher <i>k</i>. On MATH, PQ exhibits performance gains even after the synthetic-training phase (64 steps), showing that
      </CapLine>
      <CapLine top={1748} target={730} last>
        synthetic problems make real hard problems more learnable.
      </CapLine>
    </div>
  );
}
